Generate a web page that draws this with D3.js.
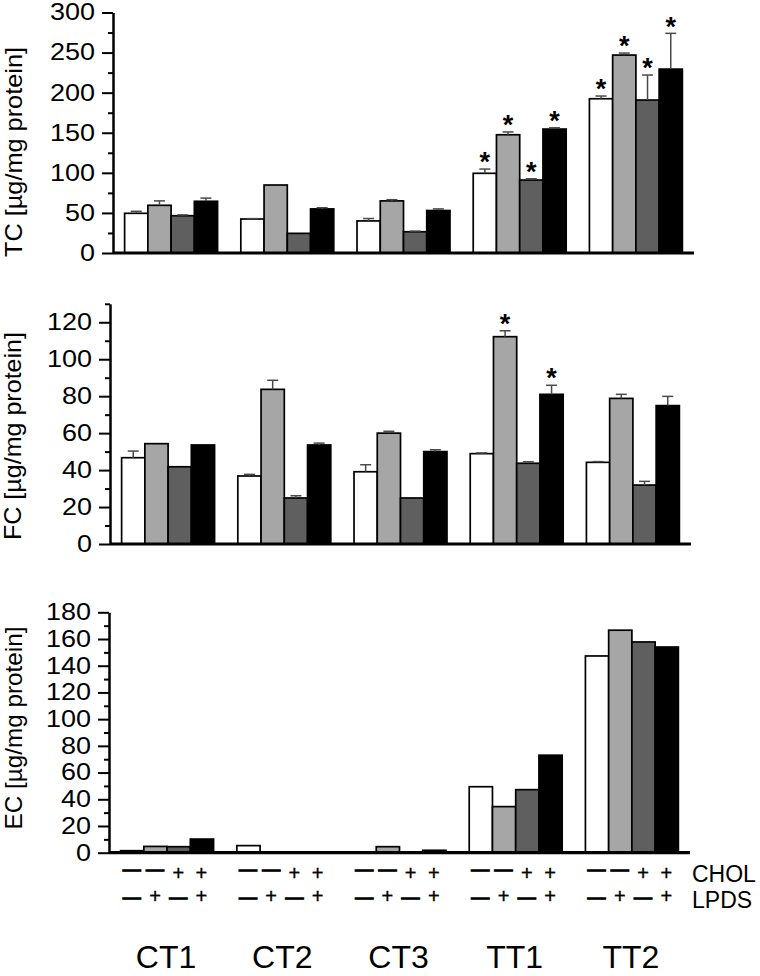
<!DOCTYPE html>
<html>
<head>
<meta charset="utf-8">
<script src="https://cdn.jsdelivr.net/npm/d3@7"></script>
<style>
  html, body { margin: 0; padding: 0; background: #fff; }
  svg { display: block; font-family: "Liberation Sans", Arial, sans-serif; }
</style>
</head>
<body>
<svg id="chart" width="760" height="976"></svg>
<script>
// ---------- data ----------
const groups = ["CT1", "CT2", "CT3", "TT1", "TT2"];
const cholSigns = ["−", "−", "+", "+"];
const lpdsSigns = ["−", "+", "−", "+"];
const seriesColors = ["#ffffff", "#a6a6a6", "#5f5f5f", "#000000"];

// TC (total cholesterol), one array per condition (−/−, −/+, +/−, +/+)
const tcWhite = [49.5, 42.4, 40.0, 99.4, 192.4];
const tcGray  = [59.5, 84.8, 65.0, 147.5, 246.9];
const tcDark  = [46.5, 24.5, 26.5, 91.0, 190.8];
const tcBlack = [64.5, 55.0, 53.0, 154.6, 229.4];
const tcErrWhite = [2.5, 0.5, 3.0, 5.3, 3.4];
const tcErrGray  = [5.5, 0, 1.5, 3.5, 2.5];
const tcErrDark  = [1.0, 0, 0.8, 1.6, 31.2];
const tcErrBlack = [4.0, 1.5, 2.0, 1.6, 44.6];
const tcStarWhite = [0, 0, 0, 1, 1];
const tcStarGray  = [0, 0, 0, 1, 1];
const tcStarDark  = [0, 0, 0, 1, 1];
const tcStarBlack = [0, 0, 0, 1, 1];
const tcTicks = [0, 50, 100, 150, 200, 250, 300];

// FC (free cholesterol)
const fcWhite = [46.7, 36.8, 39.1, 48.9, 44.2];
const fcGray  = [54.3, 83.7, 60.0, 112.2, 78.8];
const fcDark  = [41.8, 24.9, 24.9, 43.7, 31.9];
const fcBlack = [53.6, 53.6, 50.0, 81.0, 74.9];
const fcErrWhite = [3.6, 0.9, 3.8, 0.4, 0.4];
const fcErrGray  = [0, 4.9, 1.0, 3.2, 2.2];
const fcErrDark  = [0, 1.2, 0, 0.8, 2.0];
const fcErrBlack = [0, 1.0, 1.0, 4.9, 5.0];
const fcStarWhite = [0, 0, 0, 0, 0];
const fcStarGray  = [0, 0, 0, 1, 0];
const fcStarDark  = [0, 0, 0, 0, 0];
const fcStarBlack = [0, 0, 0, 1, 0];
const fcTicks = [0, 20, 40, 60, 80, 100, 120];

// EC (esterified cholesterol)
const ecWhite = [1.5, 5.3, 0.5, 49.4, 147.3];
const ecGray  = [4.7, 0.3, 4.5, 34.5, 166.6];
const ecDark  = [4.5, 0.3, 0.5, 47.2, 157.8];
const ecBlack = [10.2, 0.3, 1.8, 73.0, 154.0];
const ecTicks = [0, 20, 40, 60, 80, 100, 120, 140, 160, 180];

// ---------- layout ----------
const svg = d3.select("#chart");
const xEnd = 694;

const panels = [
  { title: "TC [µg/mg protein]", values: [tcWhite, tcGray, tcDark, tcBlack],
    errs: [tcErrWhite, tcErrGray, tcErrDark, tcErrBlack],
    stars: [tcStarWhite, tcStarGray, tcStarDark, tcStarBlack],
    ticks: tcTicks, minorStep: 25, max: 300,
    axisX: 113, y0: 253, yTop: 12.5, titleX: 22, titleY: 152, titleLen: 210 },
  { title: "FC [µg/mg protein]", values: [fcWhite, fcGray, fcDark, fcBlack],
    errs: [fcErrWhite, fcErrGray, fcErrDark, fcErrBlack],
    stars: [fcStarWhite, fcStarGray, fcStarDark, fcStarBlack],
    ticks: fcTicks, minorStep: 10, max: 130,
    axisX: 110, y0: 544, yTop: 303.8, titleX: 21, titleY: 436, titleLen: 208 },
  { title: "EC [µg/mg protein]", values: [ecWhite, ecGray, ecDark, ecBlack],
    errs: null, stars: null,
    ticks: ecTicks, minorStep: 10, max: 180,
    axisX: 109, y0: 852.7, yTop: 612.3, titleX: 22, titleY: 728, titleLen: 203 }
];

let lastX = null, lastInner = null;

panels.forEach((p) => {
  const g = svg.append("g");
  const y = d3.scaleLinear().domain([0, p.max]).range([p.y0, p.yTop]);
  const x = d3.scaleBand().domain(groups).range([p.axisX, xEnd - (113 - p.axisX)])
    .paddingInner(0.2).paddingOuter(0.1);
  const inner = d3.scaleBand().domain(d3.range(4)).range([0, x.bandwidth()]).padding(0);
  lastX = x; lastInner = inner;

  // bars
  p.values.forEach((arr, si) => {
    g.append("g").selectAll("rect").data(arr).join("rect")
      .attr("x", (d, i) => x(groups[i]) + inner(si))
      .attr("y", d => y(d))
      .attr("width", inner.bandwidth())
      .attr("height", d => y(0) - y(d))
      .attr("fill", seriesColors[si])
      .attr("stroke", "#000")
      .attr("stroke-width", 1.7);
  });

  // error bars
  if (p.errs) {
    p.values.forEach((arr, si) => {
      const eg = g.append("g").attr("stroke", "#4a4a4a").attr("stroke-width", 1.5);
      arr.forEach((v, i) => {
        const e = p.errs[si][i];
        if (e <= 0) return;
        const cx = x(groups[i]) + inner(si) + inner.bandwidth() / 2;
        eg.append("line").attr("x1", cx).attr("x2", cx).attr("y1", y(v)).attr("y2", y(v + e));
        eg.append("line").attr("x1", cx - 5.5).attr("x2", cx + 5.5).attr("y1", y(v + e)).attr("y2", y(v + e));
      });
    });
  }

  // stars
  if (p.stars) {
    p.values.forEach((arr, si) => {
      arr.forEach((v, i) => {
        if (!p.stars[si][i]) return;
        const e = p.errs[si][i];
        const cx = x(groups[i]) + inner(si) + inner.bandwidth() / 2;
        g.append("text").attr("x", cx).attr("y", y(v + e) - 13.5 + 0.58 * 27)
          .attr("text-anchor", "middle").attr("font-size", 27).attr("font-weight", "bold")
          .attr("fill", "#000").text("*");
      });
    });
  }

  // baseline
  g.append("line").attr("x1", p.axisX).attr("x2", x.range()[1])
    .attr("y1", y(0)).attr("y2", y(0)).attr("stroke", "#000").attr("stroke-width", 3.2);

  // minor ticks
  const minor = d3.range(0, p.max + 0.001, p.minorStep).filter(v => !p.ticks.includes(v));
  g.append("g").attr("transform", `translate(${p.axisX},0)`)
    .call(d3.axisLeft(y).tickValues(minor).tickSize(5).tickSizeOuter(0).tickFormat(""))
    .call(a => a.select(".domain").remove())
    .call(a => a.selectAll("line").attr("stroke-width", 2));

  // major axis
  const ax = g.append("g").attr("transform", `translate(${p.axisX},0)`)
    .call(d3.axisLeft(y).tickValues(p.ticks).tickSize(11).tickSizeOuter(0).tickPadding(7));
  ax.select(".domain").attr("stroke-width", 2.5);
  ax.selectAll("line").attr("stroke-width", 2);
  ax.selectAll("text")
    .attr("font-size", 23)
    .attr("font-family", "'Liberation Sans', Arial, sans-serif")
    .attr("fill", "#000")
    .each(function () {
      const t = d3.select(this);
      t.attr("textLength", 15 * t.text().length).attr("lengthAdjust", "spacingAndGlyphs");
    });

  // title
  g.append("text")
    .attr("transform", `translate(${p.titleX},${p.titleY}) rotate(-90)`)
    .attr("text-anchor", "middle")
    .attr("font-size", 24)
    .attr("textLength", p.titleLen).attr("lengthAdjust", "spacingAndGlyphs")
    .attr("fill", "#000")
    .text(p.title);
});

// ---------- condition rows ----------
const sg = svg.append("g").attr("fill", "#000");
const rows = [
  { signs: cholSigns, dashY: 870, plusY: 872.5, label: "CHOL", labelY: 881.7 },
  { signs: lpdsSigns, dashY: 898, plusY: 895.5, label: "LPDS", labelY: 908 }
];
rows.forEach(r => {
  const rg = sg.append("g");
  groups.forEach(gr => {
    r.signs.forEach((s, si) => {
      const cx = lastX(gr) + lastInner(si) + lastInner.bandwidth() / 2 - 0.5;
      if (s === "+") {
        rg.append("text").attr("x", cx).attr("y", r.plusY + 0.35 * 20)
          .attr("text-anchor", "middle").attr("font-size", 20)
          .attr("stroke", "#000").attr("stroke-width", 0.4).text("+");
      } else {
        rg.append("text").attr("x", cx).attr("y", r.dashY + 0.27 * 18)
          .attr("text-anchor", "middle").attr("font-size", 18)
          .attr("stroke", "#000").attr("stroke-width", 1.2)
          .attr("textLength", 18).attr("lengthAdjust", "spacingAndGlyphs")
          .text("—");
      }
    });
  });
  rg.append("text").attr("x", 692).attr("y", r.labelY).attr("font-size", 23).text(r.label);
});

// group labels
sg.selectAll(".grp").data(groups).join("text")
  .attr("class", "grp")
  .attr("x", d => lastX(d) + lastX.bandwidth() / 2 - 1)
  .attr("y", 968)
  .attr("text-anchor", "middle")
  .attr("font-size", 32)
  .text(d => d);
</script>
</body>
</html>
